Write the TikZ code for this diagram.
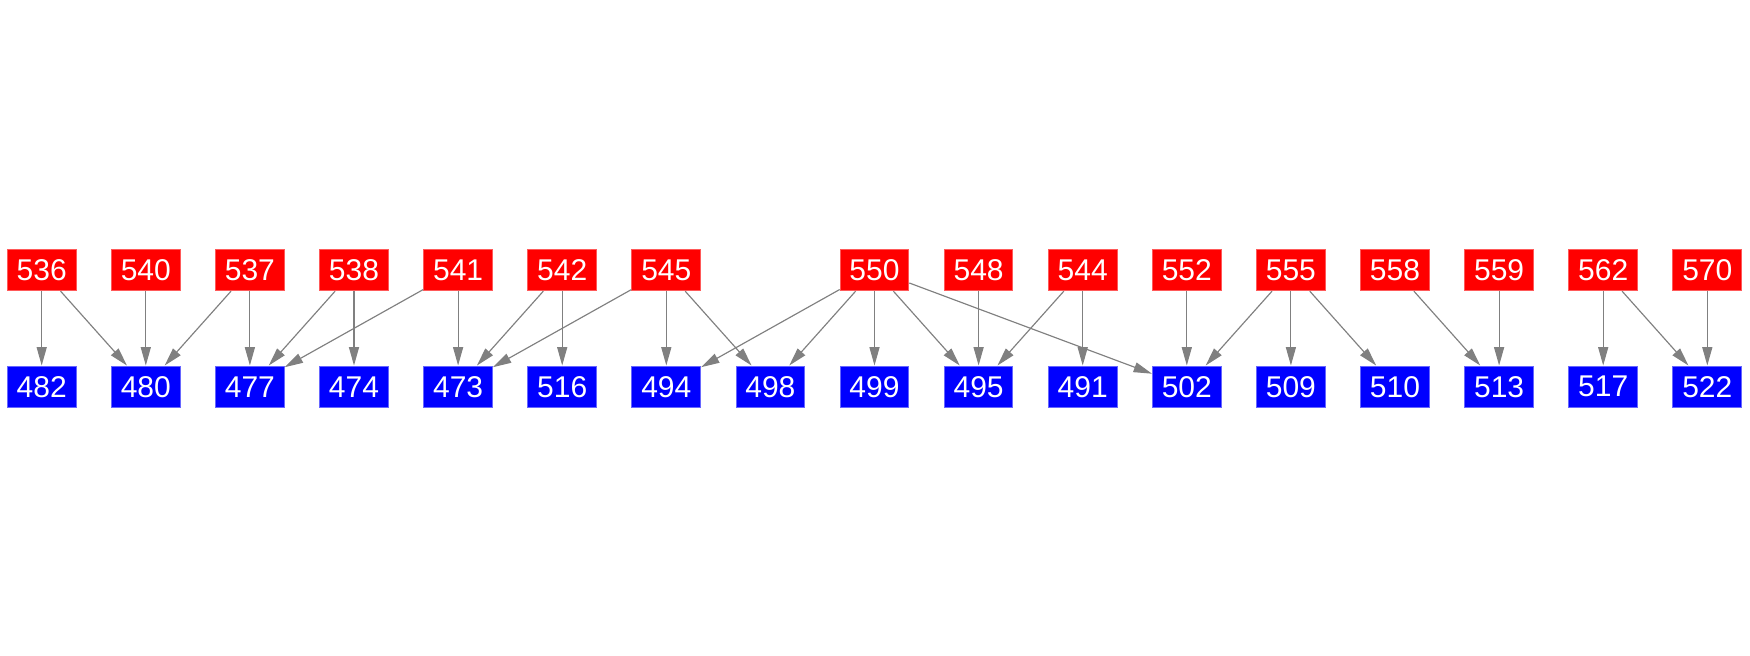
\documentclass[tikz,border=0pt]{standalone}
\usepackage{fontspec}
\setmainfont{Liberation Sans}
\usetikzlibrary{arrows.meta}
\begin{document}
\begin{tikzpicture}[x=0.6pt,y=-0.6pt,
 box/.style={minimum width=41.2pt,minimum height=24.8pt,inner sep=0pt,text=white,font=\fontsize{18}{18}\selectfont,line width=0.6pt},
 srcbox/.style={box,fill=red,draw=red!65!white},
 dstbox/.style={box,fill=blue,draw=blue!60!white},
 conn/.style={draw=gray,line width=0.7pt,-{Triangle[length=11pt,width=6pt]}}]
\useasboundingbox (0,0) rectangle (1750,656);
\foreach \n/\i in {536/0,540/1,537/2,538/3,541/4,542/5,545/6,550/8,548/9,544/10,552/11,555/12,558/13,559/14,562/15,570/16}
  \node[srcbox] (r\n) at ({41.7+104.1*\i},270) {\n};
\foreach \n/\i in {482/0,480/1,477/2,474/3,473/4,516/5,494/6,498/7,499/8,495/9,491/10,502/11,509/12,510/13,513/14,517/15,522/16}
  \node[dstbox] (b\n) at ({41.7+104.1*\i},386.7) {\n};
\foreach \a/\b in {536/482,536/480,540/480,537/480,537/477,538/477,538/474,541/477,541/473,542/473,542/516,545/473,545/494,545/498,550/494,550/498,550/499,550/495,550/502,548/495,544/495,544/491,552/502,555/502,555/509,555/510,558/513,559/513,562/517,562/522,570/522}
  \draw[conn] (r\a) -- (b\b);
\end{tikzpicture}
\end{document}
